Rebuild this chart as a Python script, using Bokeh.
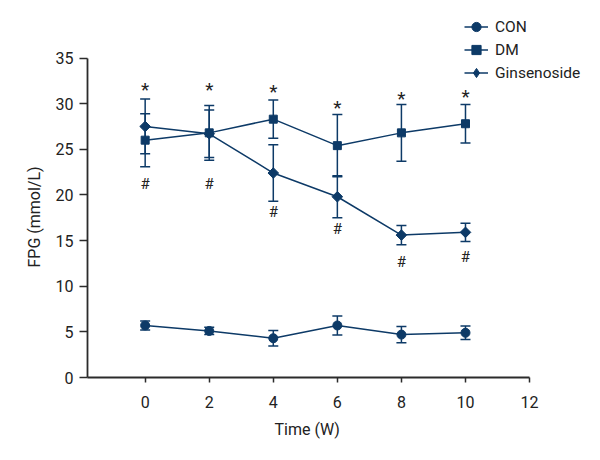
import math
from bokeh.plotting import figure
from bokeh.models import (ColumnDataSource, Range1d, FixedTicker, Whisker, TeeHead,
                          Legend, LegendItem, Title)
from bokeh.core.properties import value
from bokeh.embed import file_html
from bokeh.resources import INLINE

# ---- data ----
weeks = [0, 2, 4, 6, 8, 10]
con_mean = [5.7, 5.1, 4.3, 5.7, 4.7, 4.9]
con_err = [0.5, 0.4, 0.85, 1.05, 0.9, 0.75]
dm_mean = [26.0, 26.8, 28.3, 25.4, 26.8, 27.8]
dm_err = [2.9, 3.0, 2.1, 3.4, 3.1, 2.1]
gin_mean = [27.5, 26.7, 22.4, 19.8, 15.6, 15.9]
gin_err = [3.0, 2.6, 3.1, 2.3, 1.05, 1.0]
star_y = [31.55, 31.55, 31.35, 29.55, 30.55, 30.75]
hash_y = [21.2, 21.2, 18.1, 16.3, 12.6, 13.2]
x_ticks = [0, 2, 4, 6, 8, 10, 12]
y_ticks = [0, 5, 10, 15, 20, 25, 30, 35]
x_axis_span = (-1.8, 12)
y_axis_span = (0, 35)

NAVY = "#0d3a67"
AXIS = "#2b2b2b"
TXT = "#222222"
FONT = "Roboto"

# frame extends beyond the drawn axes so the legend can sit top-right
p = figure(width=596, height=456, output_backend="svg", toolbar_location=None,
           x_range=Range1d(-1.8, 14.09), y_range=Range1d(0, 41.3),
           min_border_left=87, min_border_right=0, min_border_top=0, min_border_bottom=79)
p.xgrid.visible = False
p.ygrid.visible = False
p.outline_line_color = None


def src(mean, err):
    return ColumnDataSource(dict(x=weeks, y=mean,
                                 upper=[m + e for m, e in zip(mean, err)],
                                 lower=[m - e for m, e in zip(mean, err)]))


series = [("CON", src(con_mean, con_err), "circle", 9, 0.0),
          ("DM", src(dm_mean, dm_err), "square", 8, 0.0),
          ("Ginsenoside", src(gin_mean, gin_err), "square", 7.5, math.pi / 4)]

items = []
for name, s, marker, size, angle in series:
    ln = p.line("x", "y", source=s, line_color=NAVY, line_width=1.5)
    w = Whisker(base="x", upper="upper", lower="lower", source=s,
                line_color=NAVY, line_width=1.5,
                upper_head=TeeHead(size=10, line_color=NAVY, line_width=1.5),
                lower_head=TeeHead(size=10, line_color=NAVY, line_width=1.5))
    p.add_layout(w)
    sc = p.scatter("x", "y", source=s, marker=marker, size=size, angle=angle,
                   fill_color=NAVY, line_color=NAVY)
    if name == "Ginsenoside":
        leg = p.scatter("x", "y", source=s, marker="diamond", size=10,
                        fill_color=NAVY, line_color=NAVY, visible=False)
        items.append(LegendItem(label=name, renderers=[ln, leg]))
    else:
        items.append(LegendItem(label=name, renderers=[ln, sc]))

# significance marks
p.text(x=weeks, y=star_y, text=["*"] * len(weeks), text_align="center",
       text_baseline="middle", text_font=value(FONT), text_font_size="19px",
       text_color=TXT)
p.text(x=weeks, y=hash_y, text=["#"] * len(weeks), text_align="center",
       text_baseline="middle", text_font=value(FONT), text_font_size="15px",
       text_color=TXT)

legend = Legend(items=items, location=(377, 293), orientation="vertical",
                glyph_width=24, glyph_height=23, label_height=23, spacing=0,
                padding=0, margin=0, label_standoff=7,
                label_text_font=FONT, label_text_font_size="15.5px",
                label_text_color=TXT, label_text_baseline="middle",
                border_line_color=None, background_fill_alpha=0)
p.add_layout(legend, "center")

for ax in (p.xaxis[0], p.yaxis[0]):
    ax.axis_line_color = AXIS
    ax.axis_line_width = 1.8
    ax.major_tick_line_color = AXIS
    ax.major_tick_line_width = 1.5
    ax.minor_tick_line_color = None
    ax.major_tick_in = 0
    ax.major_label_text_font = FONT
    ax.major_label_text_font_size = "16px"
    ax.major_label_text_color = TXT

p.xaxis[0].ticker = FixedTicker(ticks=x_ticks)
p.yaxis[0].ticker = FixedTicker(ticks=y_ticks)
p.xaxis[0].bounds = x_axis_span
p.yaxis[0].bounds = y_axis_span
p.xaxis[0].major_tick_out = 5
p.yaxis[0].major_tick_out = 8
p.xaxis[0].major_label_standoff = 13
p.yaxis[0].major_label_standoff = 6

# axis titles, placed along the drawn axes rather than the wider frame
p.add_layout(Title(text="Time (W)", align="left", offset=187, standoff=15,
                   text_font=FONT, text_font_size="16px", text_font_style="normal",
                   text_color=TXT), "below")
p.add_layout(Title(text="FPG (mmol/L)", align="left", offset=110, standoff=18,
                   text_font=FONT, text_font_size="16px", text_font_style="normal",
                   text_color=TXT), "left")

open("out.html", "w").write(file_html(p, INLINE))
